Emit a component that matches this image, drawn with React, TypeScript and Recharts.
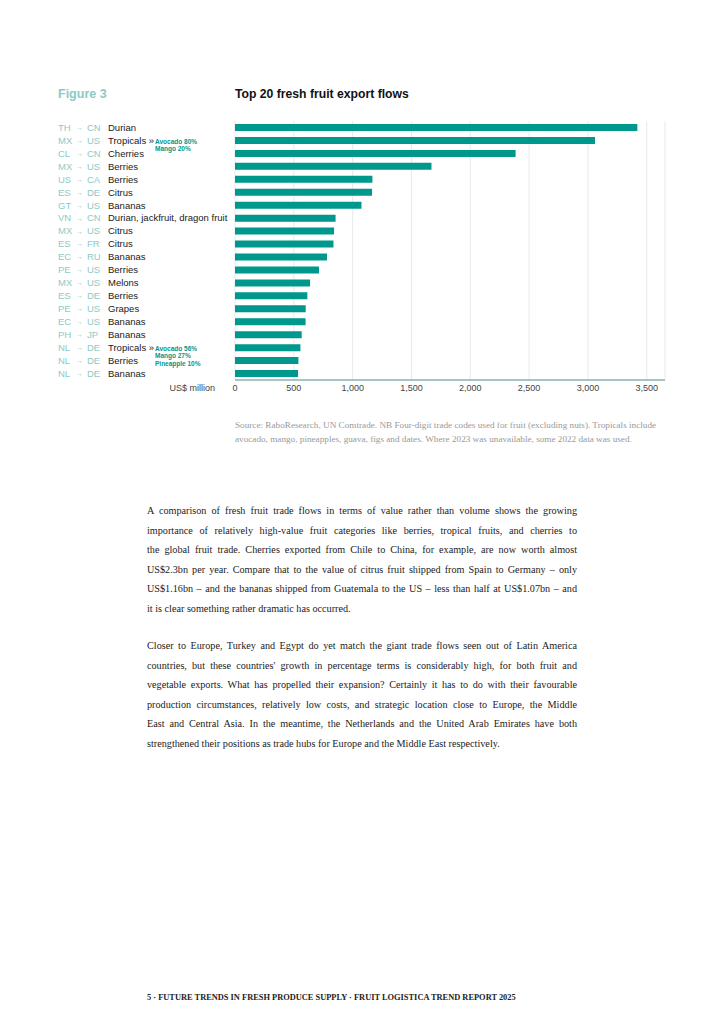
import React from "react";
import { BarChart, Bar, XAxis, YAxis, CartesianGrid } from "recharts";

const origins = ["TH", "MX", "CL", "MX", "US", "ES", "GT", "VN", "MX", "ES", "EC", "PE", "MX", "ES", "PE", "EC", "PH", "NL", "NL", "NL"];
const destinations = ["CN", "US", "CN", "US", "CA", "DE", "US", "CN", "US", "FR", "RU", "US", "US", "DE", "US", "US", "JP", "DE", "DE", "DE"];
const products = [
  "Durian", "Tropicals »", "Cherries", "Berries", "Berries", "Citrus", "Bananas",
  "Durian, jackfruit, dragon fruit", "Citrus", "Citrus", "Bananas", "Berries", "Melons",
  "Berries", "Grapes", "Bananas", "Bananas", "Tropicals »", "Berries", "Bananas",
];
const values = [3420, 3060, 2385, 1670, 1168, 1165, 1075, 855, 842, 837, 782, 714, 638, 615, 601, 600, 567, 556, 539, 536];
const notes: Record<number, string[]> = {
  1: ["Avocado 80%", "Mango 20%"],
  17: ["Avocado 56%", "Mango 27%", "Pineapple 10%"],
};
const xTicks = [0, 500, 1000, 1500, 2000, 2500, 3000, 3500];

const TEAL = "#00978d";
const LIGHT_TEAL = "#8ccac6";
const SANS = "'Liberation Sans', Arial, sans-serif";
const SERIF = "'Liberation Serif', 'Times New Roman', serif";

const data = values.map((v, i) => ({
  flow: `${origins[i]}-${destinations[i]}-${i}`,
  value: v,
}));

const para1 = [
  "A comparison of fresh fruit trade flows in terms of value rather than volume shows the growing",
  "importance of relatively high-value fruit categories like berries, tropical fruits, and cherries to",
  "the global fruit trade. Cherries exported from Chile to China, for example, are now worth almost",
  "US$2.3bn per year. Compare that to the value of citrus fruit shipped from Spain to Germany – only",
  "US$1.16bn – and the bananas shipped from Guatemala to the US – less than half at US$1.07bn – and",
  "it is clear something rather dramatic has occurred.",
];
const para2 = [
  "Closer to Europe, Turkey and Egypt do yet match the giant trade flows seen out of Latin America",
  "countries, but these countries' growth in percentage terms is considerably high, for both fruit and",
  "vegetable exports. What has propelled their expansion? Certainly it has to do with their favourable",
  "production circumstances, relatively low costs, and strategic location close to Europe, the Middle",
  "East and Central Asia. In the meantime, the Netherlands and the United Arab Emirates have both",
  "strengthened their positions as trade hubs for Europe and the Middle East respectively.",
];

function FlowTick(props: any) {
  const { y, payload } = props;
  const i = payload.index;
  const note = notes[i];
  return (
    <g fontFamily={SANS} fontSize={9.5}>
      <text x={58} y={y} dy="0.35em" fill={LIGHT_TEAL}>{origins[i]}</text>
      <text x={76} y={y} dy="0.35em" fill={LIGHT_TEAL} fontSize={7}>→</text>
      <text x={87} y={y} dy="0.35em" fill={LIGHT_TEAL}>{destinations[i]}</text>
      <text x={108} y={y} dy="0.35em" fill="#1a1a1a">{products[i]}</text>
      {note &&
        note.map((n, k) => (
          <text key={k} x={155} y={y + 1 + k * 7.5} dy="0.35em" fill={TEAL} fontSize={6.5} fontWeight={700}>
            {n}
          </text>
        ))}
    </g>
  );
}

function Lines({ lines, top, last }: { lines: string[]; top: number; last: boolean }) {
  return (
    <div style={{ position: "absolute", left: 147, top, width: 430 }}>
      {lines.map((l, i) => (
        <div
          key={i}
          style={{
            height: 19.5,
            lineHeight: "19.5px",
            textAlign: "justify",
            textAlignLast: i === lines.length - 1 && last ? "left" : "justify",
            whiteSpace: "nowrap",
            overflow: "visible",
          }}
        >
          {l}
        </div>
      ))}
    </div>
  );
}

export default function App() {
  return (
    <div style={{ position: "absolute", left: 0, top: 0, width: 724, height: 1024, background: "#fff" }}>
      <div style={{ position: "absolute", left: 58, top: 86, fontFamily: SANS, fontSize: 12.5, fontWeight: 700, color: LIGHT_TEAL, lineHeight: "16px" }}>
        Figure 3
      </div>
      <div style={{ position: "absolute", left: 235, top: 86, fontFamily: SANS, fontSize: 12.2, fontWeight: 700, color: "#111", lineHeight: "16px" }}>
        Top 20 fresh fruit export flows
      </div>

      <div style={{ position: "absolute", left: 0, top: 0 }}>
        <BarChart
          width={724}
          height={400}
          data={data}
          layout="vertical"
          margin={{ top: 121, right: 59, bottom: 0, left: 0 }}
          barCategoryGap={6}
        >
          <CartesianGrid horizontal={false} stroke="#e3eceb" strokeWidth={1} />
          <XAxis
            type="number"
            domain={[0, 3655]}
            ticks={xTicks}
            allowDataOverflow
            axisLine={{ stroke: "#4a8f8b", strokeWidth: 1 }}
            tickLine={false}
            tick={{ fill: "#444", fontSize: 9, fontFamily: SANS }}
            tickMargin={-1}
            height={20}
            tickFormatter={(v: number) => v.toLocaleString("en-US")}
          />
          <YAxis
            type="category"
            dataKey="flow"
            width={235}
            axisLine={false}
            tickLine={false}
            interval={0}
            tick={<FlowTick />}
          />
          <Bar dataKey="value" fill={TEAL} barSize={7} isAnimationActive={false} />
        </BarChart>
      </div>

      <div style={{ position: "absolute", left: 150, top: 382, width: 65, textAlign: "right", fontFamily: SANS, fontSize: 9, color: "#444", lineHeight: "12px" }}>
        US$ million
      </div>

      <div style={{ position: "absolute", left: 235, top: 418, width: 440, fontFamily: SERIF, fontSize: 9.2, color: "#9a9a9a", lineHeight: "14px", whiteSpace: "nowrap" }}>
        <div>Source: RaboResearch, UN Comtrade. NB Four-digit trade codes used for fruit (excluding nuts). Tropicals include</div>
        <div>avocado, mango, pineapples, guava, figs and dates. Where 2023 was unavailable, some 2022 data was used.</div>
      </div>

      <div style={{ fontFamily: SERIF, fontSize: 10.2, color: "#222" }}>
        <Lines lines={para1} top={501} last />
        <Lines lines={para2} top={636} last />
      </div>

      <div style={{ position: "absolute", left: 147, top: 992, fontFamily: SERIF, fontSize: 8.4, fontWeight: 700, color: "#222", lineHeight: "12px", whiteSpace: "nowrap" }}>
        5 · FUTURE TRENDS IN FRESH PRODUCE SUPPLY · FRUIT LOGISTICA TREND REPORT 2025
      </div>
    </div>
  );
}
